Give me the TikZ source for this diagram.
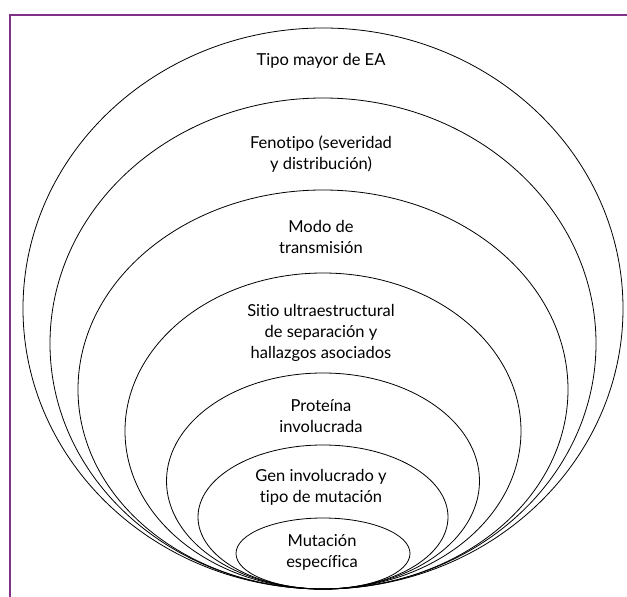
\documentclass[tikz,border=0pt]{standalone}
\usepackage{fontspec}
\setmainfont{Lato}[Ligatures=NoCommon]
\usepackage{tikz}
\definecolor{marco}{RGB}{128,48,135}

\begin{document}
\begin{tikzpicture}[x=1pt, y=-1pt,
    capa/.style={draw=black, line width=0.8pt},
    rotulo/.style={align=center, inner sep=0pt,
        font=\fontsize{16.5}{21}\selectfont}]
\useasboundingbox (0,0) rectangle (627,597);

% Draw the frame (top and left side only)
\draw [marco, line width=1.4pt] (627,15) -- (10,15) -- (10,597);

% Draw the nested ellipses, all touching at the bottom
\foreach \rx/\ry in {300/280.5, 273/245.5, 245/199.5, 198/158, 156.5/108, 125/72, 87/35.5}
    \draw [capa] (323,589-\ry) ellipse [x radius=\rx, y radius=\ry];

% Labels of each layer
\node [rotulo] (tipo) at (321,61) {Tipo mayor de EA};
\node [rotulo] (fenotipo) at (321,154) {Fenotipo (severidad\\y distribución)};
\node [rotulo] (modo) at (321,237) {Modo de\\transmisión};
\node [rotulo] (sitio) at (321,333) {Sitio ultraestructural\\de separación y\\hallazgos asociados};
\node [rotulo] (proteina) at (321,416) {Proteína\\involucrada};
\node [rotulo] (gen) at (321,487) {Gen involucrado y\\tipo de mutación};
\node [rotulo] (mutacion) at (322,552) {Mutación\\específica};
\end{tikzpicture}
\end{document}
